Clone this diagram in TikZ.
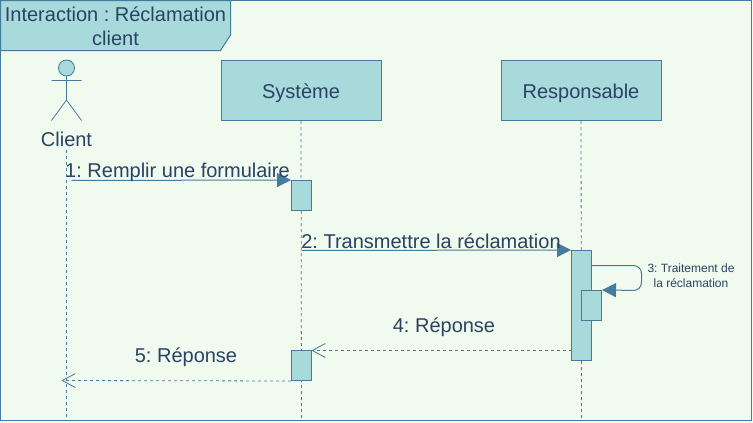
\documentclass[tikz,border=0pt]{standalone}
\usepackage{fontspec}
\setmainfont{Liberation Sans}
\usetikzlibrary{arrows.meta}
\definecolor{bgc}{HTML}{F1FAEE}
\definecolor{fillc}{HTML}{A8DADC}
\definecolor{strokec}{HTML}{457B9D}
\definecolor{textc}{HTML}{2A4263}
\frenchspacing
\tikzset{
  every node/.style={text=textc},
  shapeline/.style={draw=strokec,line width=1pt},
  bigtext/.style={font=\frenchspacing\fontsize{20}{24}\selectfont,inner sep=0pt,align=center},
  smalltext/.style={font=\frenchspacing\fontsize{12}{15}\selectfont,inner sep=0pt,align=center},
  headbox/.style={shapeline,fill=fillc,minimum width=160pt,minimum height=60pt,inner sep=0pt,font=\fontsize{20}{24}\selectfont,text height=16pt,text depth=1pt},
  activ/.style={shapeline,fill=fillc,minimum width=20pt,inner sep=0pt},
  lifeline/.style={draw=strokec,line width=.8pt,dash pattern=on 3pt off 3pt},
  syncmsg/.style={draw=strokec,line width=1pt,-{Triangle[length=14pt,width=14pt,fill=strokec]}},
  retmsg/.style={draw=strokec,line width=.8pt,dash pattern=on 3pt off 3pt,-{Straight Barb[length=13pt,width=14pt,line width=.8pt,sep=0pt]}},
}
\begin{document}
\begin{tikzpicture}[x=1pt,y=-1pt]
\useasboundingbox (0,0) rectangle (753,423);
\fill[bgc] (0,0) rectangle (753,423);
% frame
\draw[shapeline] (0.5,0.5) rectangle (751,420.5);
\draw[shapeline,fill=fillc] (0.5,0.5) -- (230.5,0.5) -- (230.5,35) -- (220.5,50.5) -- (0.5,50.5) -- cycle;
\node[bigtext] (title) at (115.5,26) {Interaction : Réclamation\\client};
% heads
\node[headbox] (sys) at (301,90.5) {Système};
\node[headbox] (resp) at (581,90.5) {Responsable};
\node[bigtext] (client) at (66.5,139) {Client};
% actor
\draw[shapeline,line width=.8pt,fill=fillc] (66.5,68) circle (8);
\draw[shapeline,line width=.8pt] (66.5,76) -- (66.5,100) (51.5,80.5) -- (81.5,80.5) (51.5,120.5) -- (66.5,100) -- (81.5,120.5);
% lifeline ends
\coordinate (cs) at (66.5,150);
\coordinate (ce) at (66.5,418);
\coordinate (se) at (301.5,420);
\coordinate (re) at (581.5,420);
\draw[lifeline] (cs) -- (ce);
\draw[lifeline] (sys.south) -- (se);
\draw[lifeline] (resp.south) -- (re);
% activations
\node[activ,minimum height=30pt] (a1) at (301.5,195.5) {};
\node[activ,minimum height=110pt] (a2) at (581.5,305.5) {};
\node[activ,minimum height=30pt] (a3) at (591.5,305.5) {};
\node[activ,minimum height=30pt] (a4) at (301.5,365.5) {};
% messages
\coordinate (m1s) at (71.5,180.5);
\coordinate (m2s) at (301.5,250.5);
\coordinate (m3s) at (591.5,265.5);
\coordinate (m3a) at (641.5,265.5);
\coordinate (m3b) at (641.5,290.5);
\coordinate (m4s) at (571.5,350.5);
\coordinate (m4e) at (311.5,350.5);
\coordinate (m5e) at (61.5,380.5);
\draw[syncmsg] (m1s) -- (a1.north west);
\draw[syncmsg] (m2s) -- (a2.north west);
\draw[syncmsg,rounded corners=8pt] (m3s) -- (m3a) -- (m3b) -- (a3.north east);
\draw[retmsg] (m4s) -- (m4e);
\draw[retmsg] (a4.south west) -- (m5e);
% labels
\node[bigtext] (l1) at (177.5,172.5) {1: Remplir une formulaire};
\node[bigtext] (l2) at (431,241.5) {2: Transmettre la réclamation};
\node[smalltext] (l3) at (691,276) {3: Traitement de\\la réclamation};
\node[bigtext] (l4) at (444,327.5) {4: Réponse};
\node[bigtext] (l5) at (186,357.5) {5: Réponse};
\end{tikzpicture}
\end{document}
